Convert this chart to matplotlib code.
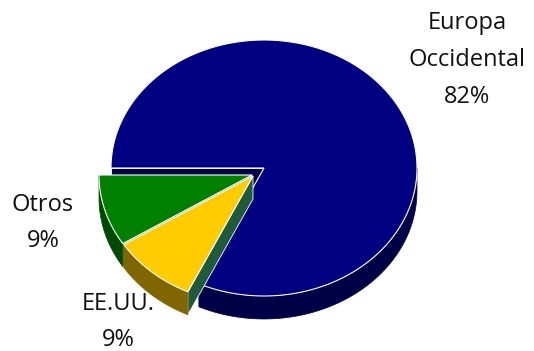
import numpy as np
import matplotlib

matplotlib.use("Agg")
import matplotlib.pyplot as plt
from matplotlib.patches import Polygon

# data, clockwise from the 9 o'clock position
labels = ["Europa\nOccidental", "EE.UU.", "Otros"]
values = [82, 9, 9]
top_colors = ["#000080", "#ffcc00", "#008000"]
side_colors = ["#000046", "#806600", "#004a00"]
cut_colors = ["#000046", "#1f5a3a", "#004a00"]

# layout (pixel coords of the 534x351 canvas)
cx, cy, rx, ry, depth = 264, 168, 153, 128, 23
offsets = [(0, 0), (-11, 8), (-12, 7)]
label_pos = [(467, 60), (118, 322), (43, 223)]
draw_order = [0, 2, 1]

fig = plt.figure(figsize=(5.34, 3.51), dpi=100)
ax = fig.add_axes([0, 0, 1, 1])
ax.set_xlim(0, 534)
ax.set_ylim(351, 0)
ax.axis("off")

fracs = np.array(values, dtype=float) / sum(values)
ends = 180 - 360 * np.cumsum(fracs)
starts = np.concatenate([[180], ends[:-1]])


def pt(t, ox, oy, down=0.0):
    t = np.radians(t)
    return cx + ox + rx * np.cos(t), cy + oy - ry * np.sin(t) + down


for k, i in enumerate(draw_order):
    z = 1 + 2 * k
    a0, a1 = starts[i], ends[i]
    ox, oy = offsets[i]
    apex = (cx + ox, cy + oy)

    # radial walls facing the viewer
    for a, vis in ((a0, np.cos(np.radians(a0)) < 0 or a0 == 180),
                   (a1, np.cos(np.radians(a1)) > 0)):
        if vis:
            p = pt(a, ox, oy)
            quad = [apex, p, (p[0], p[1] + depth), (apex[0], apex[1] + depth)]
            ax.add_patch(Polygon(quad, closed=True, fc=cut_colors[i],
                                 ec="white", lw=0.6, zorder=z))

    # outer wall on the front half
    lo, hi = max(a1, -180), min(a0, 0)
    if hi > lo:
        ts = np.linspace(hi, lo, 80)
        upper = [pt(t, ox, oy) for t in ts]
        lower = [pt(t, ox, oy, depth) for t in ts[::-1]]
        ax.add_patch(Polygon(upper + lower, closed=True, fc=side_colors[i],
                             ec=side_colors[i], lw=0.5, zorder=z))

    # top face
    ts = np.linspace(a0, a1, 200)
    poly = [apex] + [pt(t, ox, oy) for t in ts]
    ax.add_patch(Polygon(poly, closed=True, fc=top_colors[i], ec="white",
                         lw=0.8, zorder=z + 1))

for lab, v, (x, y) in zip(labels, values, label_pos):
    ax.text(x, y, f"{lab}\n{v}%", ha="center", va="center", fontsize=17,
            family="Open Sans", color="#111111", linespacing=1.7, zorder=20)

fig.savefig("out.png", dpi=100)
